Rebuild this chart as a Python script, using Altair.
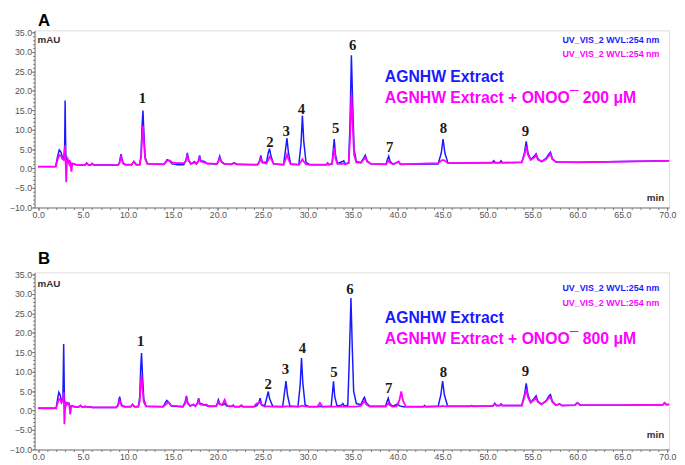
import altair as alt
import pandas as pd

BLUE = "#1a1aff"
MAGENTA = "#ff00ff"

# ---------------- Panel A (200 uM) ----------------
a_time = [0.0, 1.95, 2.15, 2.35, 2.55, 2.7, 2.85, 2.95, 3.0, 3.07, 3.12, 3.2, 3.3, 3.45, 3.55, 3.7, 3.8, 4.2,
          5.2, 5.4, 5.6, 5.85, 6.0, 6.2, 8.9, 9.05, 9.15, 9.22, 9.32, 9.45, 9.7,
          10.4, 10.65, 10.9, 11.3, 11.45, 11.56, 11.66, 11.76, 11.9, 12.15,
          14.0, 14.35, 14.6, 14.9, 15.5, 16.2, 16.45, 16.6, 16.75, 17.0, 17.4, 17.6, 17.82, 17.96, 18.1, 18.5, 18.8,
          19.9, 20.05, 20.2, 20.38, 20.7, 21.5, 21.8, 22.1,
          24.4, 24.6, 24.77, 24.95, 25.4, 25.6, 25.74, 25.9, 26.2,
          27.3, 27.5, 27.68, 27.85, 28.1, 29.0, 29.25, 29.4, 29.55, 29.8, 30.2,
          32.1, 32.2, 32.35, 32.7, 32.82, 32.94, 33.08, 33.3, 33.85, 34.0, 34.15,
          34.55, 34.7, 34.85, 35.0, 35.15, 35.4, 35.9, 36.25, 36.4, 36.6, 37.0,
          38.7, 38.85, 39.0, 39.15, 39.5, 39.95, 40.1, 40.3,
          44.5, 44.85, 45.05, 45.25, 45.6, 50.5, 50.7, 50.85, 51.35, 51.5, 51.65,
          53.8, 54.1, 54.3, 54.5, 54.8, 55.2, 55.4, 55.6, 56.0, 56.5, 56.85, 57.0, 57.2, 57.6,
          60.0, 65.0, 70.2]
a_extract = [0.5, 0.5, 3.0, 4.8, 4.2, 2.8, 2.6, 6.0, 17.5, 4.0, 2.5, 2.2, 1.6, 2.0, 1.8, 1.0, 1.3, 1.0,
             0.9, 1.4, 0.9, 0.9, 1.3, 0.9, 0.9, 1.6, 3.0, 3.7, 2.6, 1.5, 1.0,
             1.0, 1.8, 1.0, 1.0, 3.5, 11.0, 14.9, 9.5, 3.0, 1.2,
             1.1, 2.3, 2.0, 1.2, 1.0, 1.0, 2.2, 4.0, 2.2, 1.2, 1.8, 1.2, 2.0, 3.4, 2.0, 1.8, 1.3,
             1.2, 2.0, 3.2, 1.8, 1.2, 1.1, 1.5, 1.1,
             1.0, 1.8, 3.4, 1.6, 1.6, 4.0, 5.1, 3.2, 1.2,
             1.0, 4.5, 7.8, 4.0, 1.2, 1.0, 6.5, 13.6, 7.0, 1.6, 1.0,
             1.0, 1.4, 1.0, 1.2, 4.5, 7.6, 3.5, 1.3, 1.8, 2.0, 1.2,
             1.5, 12.0, 29.1, 16.0, 5.0, 1.8, 1.5, 2.8, 3.4, 2.0, 1.2,
             1.1, 2.3, 3.2, 1.9, 1.1, 1.6, 1.8, 1.1,
             1.2, 4.0, 7.6, 4.0, 1.4, 1.5, 2.0, 1.5, 1.5, 2.0, 1.5,
             1.6, 4.0, 7.0, 4.0, 2.3, 3.2, 3.8, 2.5, 1.8, 2.6, 3.8, 4.2, 2.6, 1.7,
             1.6, 1.8, 2.0]
a_onoo = [0.5, 0.5, 2.2, 3.5, 3.2, 2.4, 2.2, 3.5, 6.0, 1.0, -3.5, 1.5, 2.4, 1.2, 2.0, -0.8, 1.3, 1.0,
          0.9, 1.4, 0.9, 0.9, 1.3, 0.9, 0.9, 1.4, 2.4, 3.0, 2.2, 1.3, 1.0,
          1.0, 1.8, 1.0, 1.0, 2.8, 8.0, 11.0, 7.0, 2.5, 1.2,
          1.1, 2.0, 2.1, 1.6, 1.4, 1.4, 2.0, 3.3, 2.0, 1.2, 1.6, 1.2, 1.8, 2.8, 1.8, 1.6, 1.3,
          1.2, 1.8, 2.7, 1.8, 1.2, 1.1, 1.4, 1.1,
          1.0, 1.6, 2.6, 1.5, 1.3, 2.2, 3.0, 2.6, 1.2,
          1.0, 2.2, 3.6, 2.4, 1.1, 1.0, 1.8, 2.4, 1.8, 1.1, 1.0,
          1.0, 1.4, 1.0, 1.2, 3.4, 5.3, 2.6, 1.2, 1.2, 1.3, 1.1,
          1.4, 8.0, 19.1, 11.0, 3.5, 1.6, 1.5, 2.4, 2.8, 1.8, 1.2,
          1.1, 1.6, 2.0, 1.5, 1.1, 1.6, 1.8, 1.1,
          1.4, 2.0, 2.2, 2.0, 1.4, 1.5, 1.5, 1.5, 1.5, 1.5, 1.5,
          1.6, 3.5, 5.7, 3.5, 2.2, 2.9, 3.4, 2.3, 1.8, 2.4, 3.4, 3.8, 2.4, 1.7,
          1.6, 1.8, 2.0]

# ---------------- Panel B (800 uM) ----------------
b_time = [0.0, 2.0, 2.15, 2.3, 2.45, 2.6, 2.75, 2.84, 2.92, 3.0, 3.15, 3.3, 3.45, 3.56, 3.7, 4.2,
          4.5, 4.7, 4.9, 5.1, 5.25, 5.4, 5.65, 5.8, 6.0, 8.7, 8.9, 9.0, 9.07, 9.17, 9.3, 9.6,
          10.3, 10.5, 10.7, 11.15, 11.3, 11.4, 11.5, 11.6, 11.75, 12.0,
          13.9, 14.3, 14.5, 14.8, 16.1, 16.35, 16.5, 16.65, 16.9, 17.3, 17.5, 17.72, 17.85, 18.0, 18.4, 18.7, 19.0,
          19.8, 19.95, 20.05, 20.2, 20.5, 20.75, 20.95, 21.2, 21.6, 21.7, 21.85, 22.4, 22.6, 22.8,
          24.0, 24.3, 24.55, 24.7, 24.85, 25.2, 25.45, 25.6, 25.75, 26.1,
          27.2, 27.4, 27.57, 27.74, 28.0, 28.9, 29.15, 29.3, 29.45, 29.7, 30.1,
          31.1, 31.35, 31.6, 32.6, 32.74, 32.86, 33.0, 33.25, 33.75, 33.9, 34.05,
          34.45, 34.6, 34.8, 34.95, 35.1, 35.4, 35.9, 36.15, 36.3, 36.5, 36.9,
          38.65, 38.8, 38.95, 39.1, 39.4, 39.85, 40.0, 40.2, 40.4, 40.6, 40.9,
          42.85, 43.0, 43.15, 44.5, 44.8, 45.0, 45.2, 45.55, 48.0, 48.2, 48.4,
          50.6, 50.8, 51.0, 51.35, 51.5, 51.65,
          53.8, 54.1, 54.3, 54.5, 54.8, 55.2, 55.4, 55.6, 56.0, 56.5, 56.85, 57.0, 57.2, 57.6,
          58.0, 58.3, 59.7, 60.0, 60.3, 65.0, 69.5, 69.7, 69.9, 70.2]
b_extract = [0.6, 0.6, 2.8, 4.7, 4.0, 2.4, 2.6, 17.1, 3.0, 1.8, 1.5, 2.0, 1.4, 0.8, 1.2, 0.9,
             0.9, 1.3, 0.9, 0.9, 1.1, 0.9, 0.9, 1.0, 0.8, 0.8, 1.6, 3.0, 3.6, 2.4, 1.4, 1.0,
             1.0, 1.6, 1.0, 1.0, 3.5, 10.5, 14.8, 9.5, 3.0, 1.1,
             1.0, 2.6, 2.2, 1.2, 1.0, 2.2, 3.8, 2.0, 1.2, 1.6, 1.1, 2.0, 3.2, 1.8, 1.6, 1.3, 1.1,
             1.1, 2.0, 2.8, 1.7, 1.4, 1.8, 1.2, 1.1, 1.1, 1.4, 1.0, 1.0, 1.3, 1.0,
             1.0, 1.2, 2.0, 3.2, 1.6, 1.2, 3.5, 4.9, 3.0, 1.1,
             1.0, 4.5, 7.6, 4.0, 1.2, 1.0, 6.5, 13.5, 7.0, 1.5, 1.0,
             1.0, 1.1, 1.0, 1.1, 4.5, 7.5, 3.5, 1.2, 1.4, 1.8, 1.2,
             1.4, 12.0, 28.9, 16.0, 5.0, 1.8, 1.5, 2.8, 3.4, 2.0, 1.1,
             1.1, 2.3, 3.2, 1.9, 1.1, 1.5, 1.8, 1.2, 1.1, 1.0, 1.0,
             1.0, 1.3, 1.0, 1.1, 4.0, 7.6, 4.0, 1.2, 1.1, 1.3, 1.1,
             1.2, 1.9, 1.3, 1.3, 1.7, 1.3,
             1.3, 4.0, 7.0, 4.0, 2.1, 3.2, 3.8, 2.4, 1.6, 2.5, 3.8, 4.1, 2.4, 1.4,
             1.7, 1.3, 1.4, 2.0, 1.4, 1.4, 1.5, 2.0, 1.5, 1.6]
b_onoo = [0.6, 0.6, 1.8, 3.0, 2.8, 2.0, 2.6, 4.7, -3.5, 0.5, 2.0, 1.6, 1.8, -1.0, 1.2, 0.9,
          0.9, 1.3, 0.9, 0.9, 1.1, 0.9, 0.9, 1.0, 0.8, 0.8, 1.3, 2.2, 2.6, 1.9, 1.2, 1.0,
          1.0, 1.6, 1.0, 1.0, 2.4, 6.5, 9.1, 6.0, 2.2, 1.1,
          1.0, 1.8, 2.2, 1.3, 1.0, 1.8, 3.0, 1.8, 1.2, 1.5, 1.1, 1.8, 2.6, 1.6, 1.4, 1.6, 1.1,
          1.1, 1.7, 2.2, 1.6, 1.6, 2.8, 1.5, 1.1, 1.1, 1.3, 1.0, 1.0, 1.4, 1.0,
          1.0, 1.8, 2.0, 2.3, 1.4, 1.0, 1.1, 1.1, 1.1, 1.0,
          1.0, 1.0, 1.1, 1.1, 1.0, 1.0, 1.1, 1.2, 1.2, 1.1, 1.0,
          1.1, 2.0, 1.1, 1.0, 1.0, 1.0, 1.0, 1.0, 1.0, 1.0, 1.0,
          1.0, 1.0, 1.0, 1.0, 1.0, 1.0, 1.2, 2.0, 2.4, 1.6, 1.0,
          1.0, 1.5, 1.9, 1.4, 1.0, 1.1, 1.5, 2.8, 4.9, 2.5, 1.1,
          1.0, 1.0, 1.0, 1.1, 1.1, 1.2, 1.1, 1.1, 1.1, 1.2, 1.1,
          1.2, 1.7, 1.3, 1.3, 1.6, 1.3,
          1.3, 3.5, 5.5, 3.4, 2.0, 2.8, 3.2, 2.2, 1.6, 2.4, 3.3, 3.5, 2.2, 1.4,
          1.7, 1.3, 1.4, 2.0, 1.4, 1.4, 1.5, 2.0, 1.5, 1.6]

# ---------------- Peak labels ----------------
peak_ids = ["1", "2", "3", "4", "5", "6", "7", "8", "9"]
a_label_time = [11.6, 25.8, 27.6, 29.3, 33.1, 35.0, 39.1, 45.1, 54.2]
a_label_mau = [18.0, 6.9, 9.7, 15.3, 10.3, 31.8, 5.5, 10.5, 9.7]
b_label_time = [11.4, 25.6, 27.5, 29.4, 32.9, 34.7, 39.0, 45.1, 54.2]
b_label_mau = [17.8, 6.8, 10.6, 16.1, 10.0, 31.1, 5.9, 10.0, 10.2]

x_ticks = [0, 5, 10, 15, 20, 25, 30, 35, 40, 45, 50, 55, 60, 65, 70]
y_ticks = [-10, -5, 0, 5, 10, 15, 20, 25, 30, 35]
x_minor = list(range(0, 71))
y_minor = list(range(-10, 36))

W, H = 645, 180
XDOM = [-0.4, 70.2]
YDOM = [-10, 35.5]
AXC = "#777777"
LABC = "#555555"


def text_layer(txt, x, y, **kw):
    return alt.Chart(alt.Data(values=[{"t": txt}])).mark_text(**kw).encode(
        x=alt.value(x), y=alt.value(y), text="t:N")


def panel(times, ext, onoo, lab_t, lab_y, letter, conc, letter_y, uv_y, mau_y, min_y, leg_y):
    df = pd.DataFrame({"time": times, "extract": ext, "onoo": onoo})
    xs = alt.Scale(domain=XDOM, nice=False, zero=False)
    ys = alt.Scale(domain=YDOM, nice=False, zero=False)
    major_x = alt.Axis(values=x_ticks, format=".1f", title=None, labelFontSize=9, labelColor=LABC,
                       tickSize=3, tickColor=AXC, domainColor=AXC, labelPadding=0, labelFlush=False,
                       labelOverlap=False, grid=False, orient="bottom", labelFont="Liberation Sans")
    major_y = alt.Axis(values=y_ticks, format=".1f", title=None, labelFontSize=9, labelColor=LABC,
                       tickSize=3, tickColor=AXC, domainColor=AXC, labelPadding=0, labelFlush=False,
                       grid=False, orient="left", labelFont="Liberation Sans")
    minor_x = alt.Axis(values=x_minor, labels=False, domain=False, tickSize=2, tickColor=AXC,
                       title=None, grid=False, orient="bottom")
    minor_y = alt.Axis(values=y_minor, labels=False, domain=False, tickSize=2, tickColor=AXC,
                       title=None, grid=False, orient="left")
    base = alt.Chart(df)
    blue = base.mark_line(color=BLUE, strokeWidth=1.5).encode(
        x=alt.X("time:Q", scale=xs, axis=major_x),
        y=alt.Y("extract:Q", scale=ys, axis=major_y))
    mag = base.mark_line(color=MAGENTA, strokeWidth=1.8).encode(
        x=alt.X("time:Q", scale=xs, axis=minor_x),
        y=alt.Y("onoo:Q", scale=ys, axis=minor_y))
    labs = alt.Chart(pd.DataFrame({"id": peak_ids, "time": lab_t, "mau": lab_y})).mark_text(
        font="Liberation Serif", fontWeight="bold", fontSize=15, color="#1a1a1a", baseline="middle"
    ).encode(x=alt.X("time:Q", scale=xs, axis=None), y=alt.Y("mau:Q", scale=ys, axis=None), text="id:N")
    texts = [
        text_layer(letter, 3.5, letter_y, fontSize=17, fontWeight="bold", color="black",
                   align="left", baseline="top", font="Liberation Sans"),
        text_layer("mAU", 3, mau_y, fontSize=10, fontWeight="bold", color="#333333",
                   align="left", baseline="middle", font="Liberation Sans"),
        text_layer("UV_VIS_2 WVL:254 nm", 635, uv_y[0], fontSize=9, fontWeight="bold", color=BLUE,
                   align="right", baseline="middle", font="Liberation Sans"),
        text_layer("UV_VIS_2 WVL:254 nm", 635, uv_y[1], fontSize=9, fontWeight="bold", color=MAGENTA,
                   align="right", baseline="middle", font="Liberation Sans"),
        text_layer("AGNHW Extract", 356, leg_y[0], fontSize=16, fontWeight="bold", color=BLUE,
                   align="left", baseline="middle", font="Liberation Sans"),
        text_layer("AGNHW Extract + ONOO\u00af " + conc, 356, leg_y[1], fontSize=16, fontWeight="bold",
                   color=MAGENTA, align="left", baseline="middle", font="Liberation Sans"),
        text_layer("min", 640, min_y, fontSize=10, fontWeight="bold", color="#333333",
                   align="right", baseline="middle", font="Liberation Sans"),
    ]
    return alt.layer(blue, mag, labs, *texts).resolve_axis(x="independent", y="independent").properties(
        width=W, height=H)


pa = panel(a_time, a_extract, a_onoo, a_label_time, a_label_mau, "A", "200 \u03bcM", -17,
           (9.5, 24.5), 10, 170.5, (47, 68.5))
pb = panel(b_time, b_extract, b_onoo, b_label_time, b_label_mau, "B", "800 \u03bcM", -21.5,
           (16, 31.5), 12, 165.5, (46.5, 68))

chart = alt.vconcat(pa, pb, spacing=66, bounds="flush").properties(
    padding={"left": 0, "top": 0, "right": 0, "bottom": 0}
).configure_view(stroke="#888888", strokeWidth=1).configure(background="white")

chart.save("out.html", embed_options={"renderer": "svg", "actions": False})
